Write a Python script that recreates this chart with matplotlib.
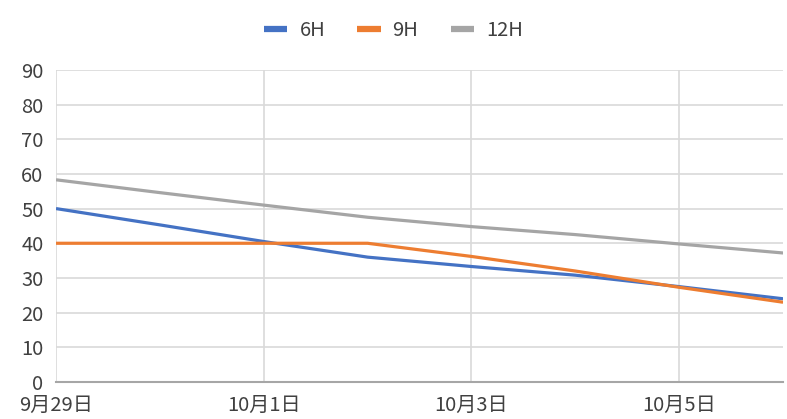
import matplotlib
matplotlib.use("Agg")
import matplotlib.pyplot as plt
import numpy as np

plt.rcParams['font.family'] = ['Noto Sans CJK JP', 'DejaVu Sans']

# Daily readings for each interval setting
dates = np.arange(np.datetime64("2023-09-29"), np.datetime64("2023-10-07"))
h6 = [50, 45.3, 40.5, 36, 33.3, 30.8, 27.5, 24]
h9 = [40, 40, 40, 40, 36.2, 32, 27.3, 23]
h12 = [58.3, 54.6, 51, 47.5, 44.8, 42.5, 39.8, 37.2]
series_names = ["6H", "9H", "12H"]
colors = ["#4472C4", "#ED7D31", "#A5A5A5"]

fig = plt.figure(figsize=(7.87, 4.19), dpi=100)
ax = fig.add_axes([0.0712, 0.0883, 0.9238, 0.745])

x = dates.astype(object)
for vals, name, c in zip([h6, h9, h12], series_names, colors):
    ax.plot(x, vals, color=c, lw=2.3, label=name, solid_capstyle="butt")

ax.set_ylim(0, 90)
ax.set_yticks(range(0, 91, 10))
ax.set_xlim(x[0], x[-1])
ticks = x[::2]
ax.set_xticks(ticks)
ax.set_xticklabels([f"{d.month}月{d.day}日" for d in ticks])

ax.grid(True, color="#D9D9D9", lw=1.2)
ax.set_axisbelow(True)
for s in ["top", "right", "left"]:
    ax.spines[s].set_visible(False)
ax.spines["bottom"].set_color("#A6A6A6")
ax.spines["bottom"].set_linewidth(1.5)
ax.tick_params(length=0, labelsize=14.5, colors="#404040")
ax.tick_params(axis="x", pad=9)
ax.tick_params(axis="y", pad=9)

handles, labels = ax.get_legend_handles_labels()
leg = fig.legend(handles, labels, loc="center", bbox_to_anchor=(0.5, 0.928), ncol=3,
                 frameon=False, fontsize=14.5, handlelength=1.15, columnspacing=1.6,
                 handletextpad=0.6, labelcolor="#404040")
for line in leg.get_lines():
    line.set_linewidth(4.5)

fig.savefig("out.png", dpi=100)
